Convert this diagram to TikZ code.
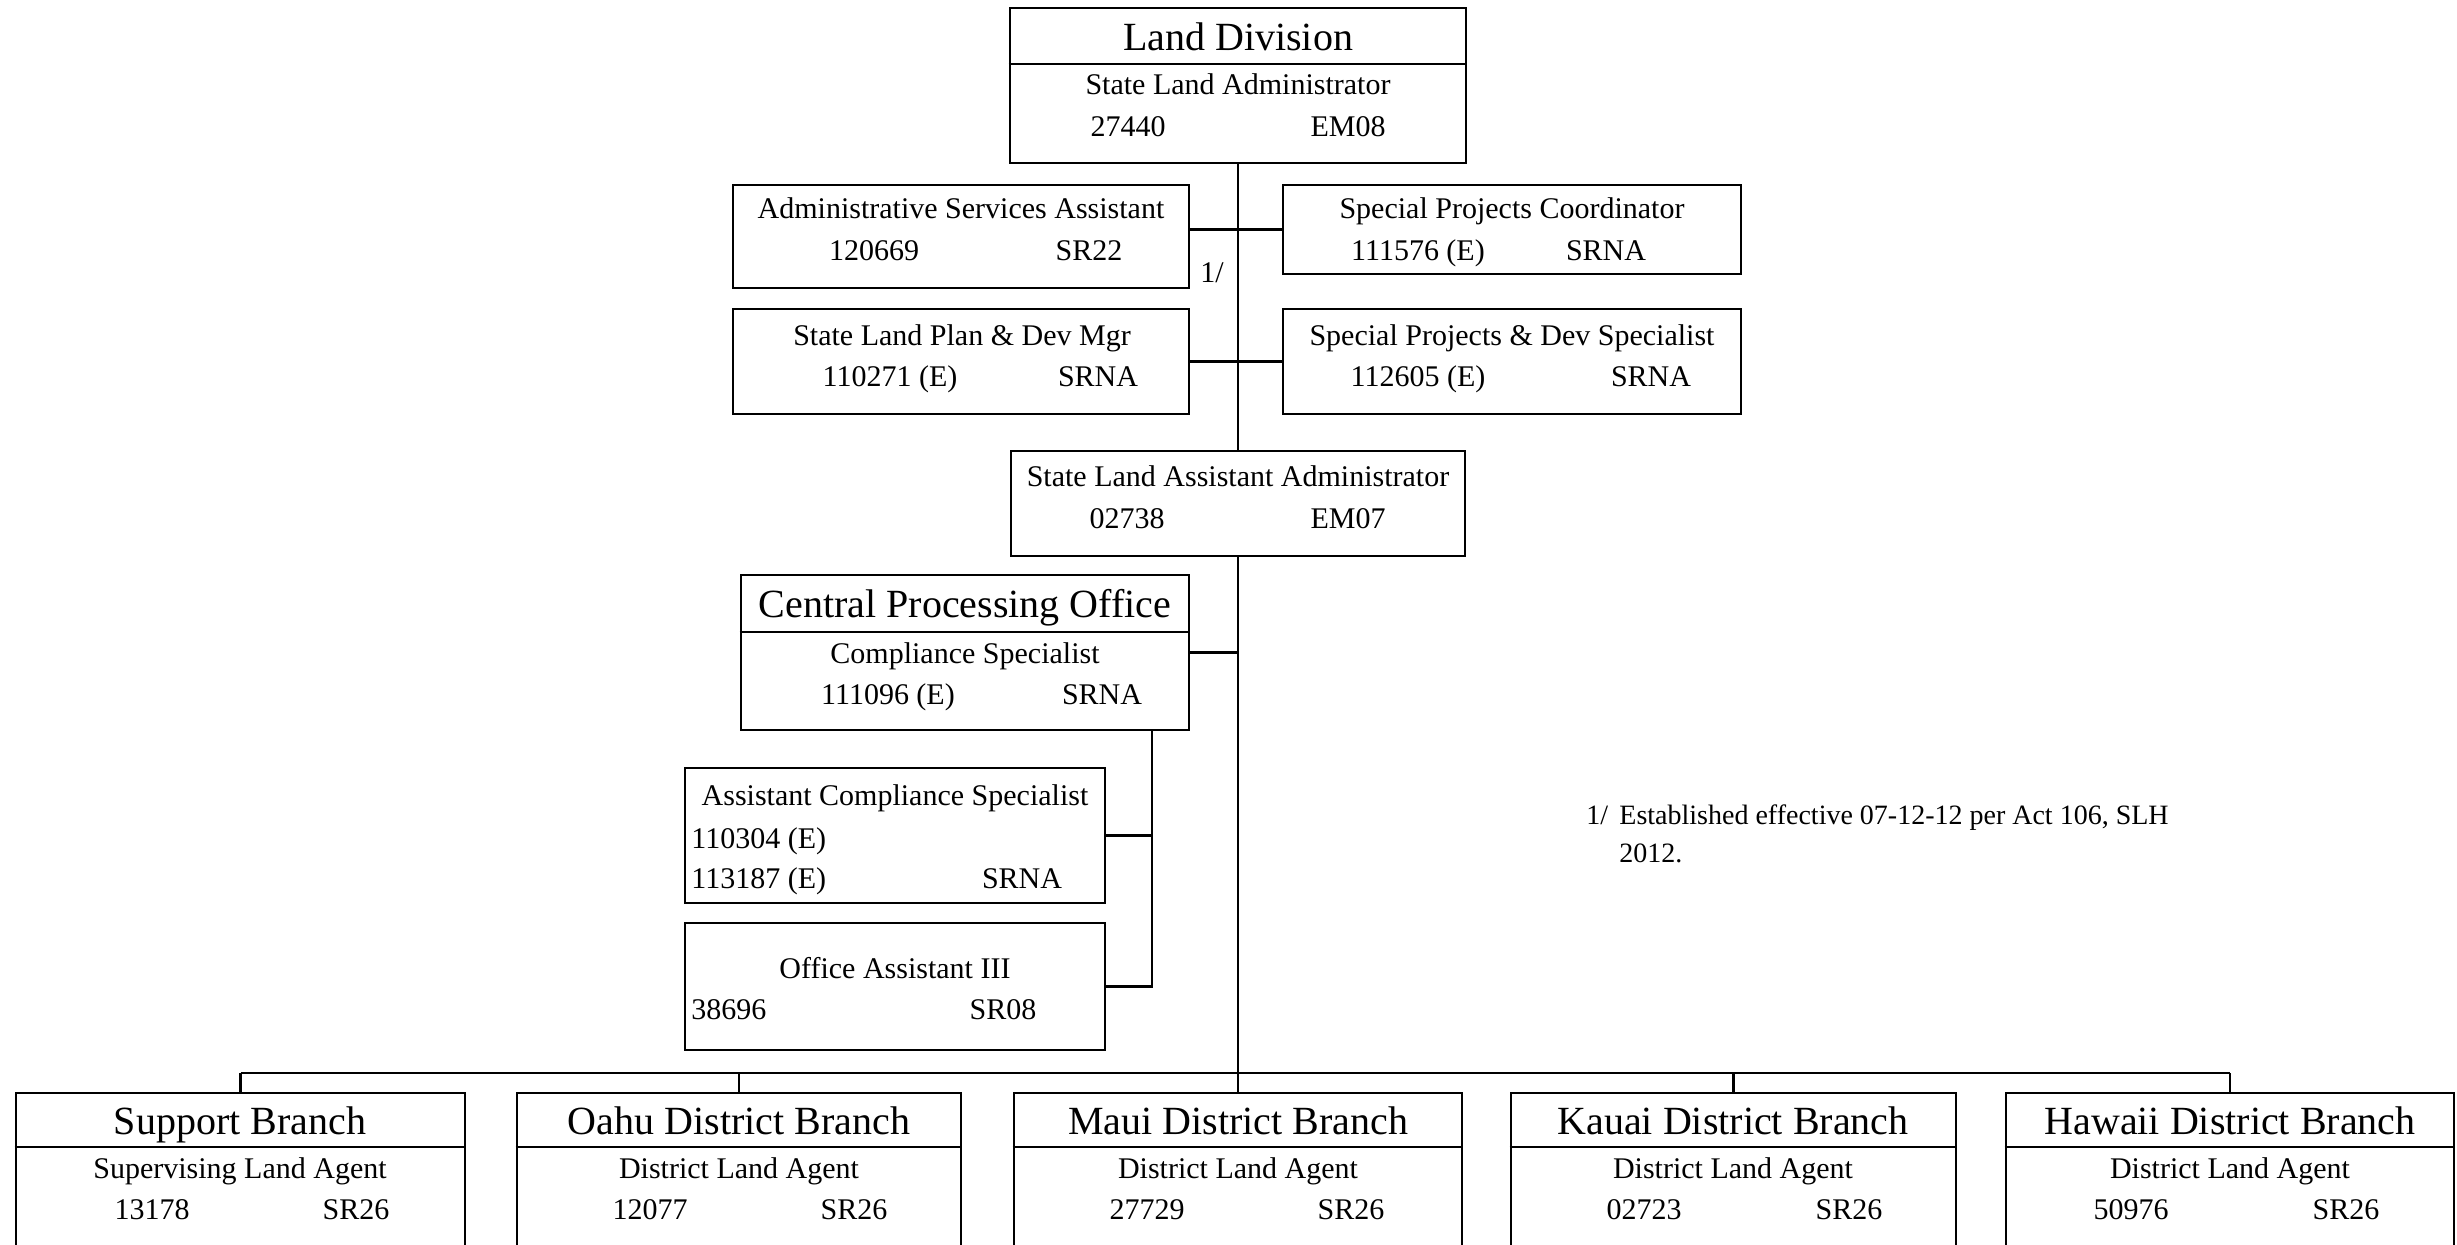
\documentclass[tikz,border=0pt]{standalone}
\usepackage{fontspec}
\setmainfont{Liberation Serif}
\usetikzlibrary{fit}
\begin{document}
\begin{tikzpicture}[x=0.5pt,y=-0.5pt,
  box/.style={draw, line width=1.3pt, inner sep=0pt},
  ln/.style={line width=1.3pt},
  txt/.style={inner sep=0pt, text height=0.68em, text depth=0pt, yshift=-2.5pt, font=\fontsize{15}{18}\selectfont},
  ttl/.style={inner sep=0pt, text height=0.68em, text depth=0pt, yshift=-3pt, font=\fontsize{20}{24}\selectfont},
  note/.style={txt, anchor=west, font=\fontsize{14}{17}\selectfont}]
\useasboundingbox (0,0) rectangle (2457,1245);

% ---------- boxes ----------
\node[box, fit={(1010,8)(1466,163)}] (ld) {};
\node[box, fit={(733,185)(1189,288)}] (asa) {};
\node[box, fit={(1283,185)(1741,274)}] (spc) {};
\node[box, fit={(733,309)(1189,414)}] (slp) {};
\node[box, fit={(1283,309)(1741,414)}] (spd) {};
\node[box, fit={(1011,451)(1465,556)}] (slaa) {};
\node[box, fit={(741,575)(1189,730)}] (cpo) {};
\node[box, fit={(685,768)(1105,903)}] (acs) {};
\node[box, fit={(685,923)(1105,1050)}] (oa) {};
\node[box, fit={(16,1093)(465,1262)}] (sb) {};
\node[box, fit={(517,1093)(961,1262)}] (oahu) {};
\node[box, fit={(1014,1093)(1462,1262)}] (maui) {};
\node[box, fit={(1511,1093)(1956,1262)}] (kauai) {};
\node[box, fit={(2006,1093)(2454,1262)}] (hawaii) {};

% dividers
\draw[ln] (ld.west |- 0,64) -- (ld.east |- 0,64);
\draw[ln] (cpo.west |- 0,632) -- (cpo.east |- 0,632);
\foreach \b in {sb,oahu,maui,kauai,hawaii}
  \draw[ln] (\b.west |- 0,1147) -- (\b.east |- 0,1147);

% ---------- texts ----------
\node[ttl] (ld-t) at (1238,38) {Land Division};
\node[txt] (ld-s) at (1238,83) {State Land Administrator};
\node[txt] (ld-n) at (1128,125) {27440};
\node[txt] (ld-g) at (1348,125) {EM08};

\node[txt] (asa-t) at (961,207) {Administrative Services Assistant};
\node[txt] (asa-n) at (874,249) {120669};
\node[txt] (asa-g) at (1089,249) {SR22};

\node[txt] (spc-t) at (1512,207) {Special Projects Coordinator};
\node[txt] (spc-n) at (1418,249) {111576 (E)};
\node[txt] (spc-g) at (1606,249) {SRNA};

\node[txt] (fn1) at (1212,271) {1/};

\node[txt] (slp-t) at (962,334) {State Land Plan \& Dev Mgr};
\node[txt] (slp-n) at (890,375) {110271 (E)};
\node[txt] (slp-g) at (1098,375) {SRNA};

\node[txt] (spd-t) at (1512,334) {Special Projects \& Dev Specialist};
\node[txt] (spd-n) at (1418,375) {112605 (E)};
\node[txt] (spd-g) at (1651,375) {SRNA};

\node[txt] (slaa-t) at (1238,475) {State Land Assistant Administrator};
\node[txt] (slaa-n) at (1127,517) {02738};
\node[txt] (slaa-g) at (1348,517) {EM07};

\node[ttl] (cpo-t) at (965,605) {Central Processing Office};
\node[txt] (cpo-s) at (965,652) {Compliance Specialist};
\node[txt] (cpo-n) at (888,693) {111096 (E)};
\node[txt] (cpo-g) at (1102,693) {SRNA};

\node[txt] (acs-t) at (895,794) {Assistant Compliance Specialist};
\node[txt, anchor=west] (acs-n1) at (691,837) {110304 (E)};
\node[txt, anchor=west] (acs-n2) at (691,877) {113187 (E)};
\node[txt] (acs-g) at (1022,877) {SRNA};

\node[txt] (oa-t) at (895,967) {Office Assistant III};
\node[txt, anchor=west] (oa-n) at (691,1008) {38696};
\node[txt] (oa-g) at (1003,1008) {SR08};

\node[ttl] (sb-t) at (240,1122) {Support Branch};
\node[txt] (sb-s) at (240,1167) {Supervising Land Agent};
\node[txt] (sb-n) at (152,1208) {13178};
\node[txt] (sb-g) at (356,1208) {SR26};

\node[ttl] (oahu-t) at (739,1122) {Oahu District Branch};
\node[txt] (oahu-s) at (739,1167) {District Land Agent};
\node[txt] (oahu-n) at (650,1208) {12077};
\node[txt] (oahu-g) at (854,1208) {SR26};

\node[ttl] (maui-t) at (1238,1122) {Maui District Branch};
\node[txt] (maui-s) at (1238,1167) {District Land Agent};
\node[txt] (maui-n) at (1147,1208) {27729};
\node[txt] (maui-g) at (1351,1208) {SR26};

\node[ttl] (kauai-t) at (1733,1122) {Kauai District Branch};
\node[txt] (kauai-s) at (1733,1167) {District Land Agent};
\node[txt] (kauai-n) at (1644,1208) {02723};
\node[txt] (kauai-g) at (1849,1208) {SR26};

\node[ttl] (hawaii-t) at (2230,1122) {Hawaii District Branch};
\node[txt] (hawaii-s) at (2230,1167) {District Land Agent};
\node[txt] (hawaii-n) at (2131,1208) {50976};
\node[txt] (hawaii-g) at (2346,1208) {SR26};

\node[note] (fnA) at (1586,813) {1/};
\node[note] (fnB) at (1619,813) {Established effective 07-12-12 per Act 106, SLH};
\node[note] (fnC) at (1619,851) {2012.};

% ---------- connectors ----------
\coordinate (bus) at (0,1073);
\draw[ln] (ld.south) -- (slaa.north);
\draw[ln] (asa.east |- spc.west) -- (spc.west);
\draw[ln] (slp.east) -- (spd.west);
\draw[ln] (slaa.south) -- (maui.north);
\draw[ln] (cpo.east) -- (cpo.east -| slaa.south);
\draw[ln] (sb.north |- bus) -- (hawaii.north |- bus);
\foreach \b in {sb,oahu,kauai,hawaii}
  \draw[ln] (\b.north |- bus) -- (\b.north);
\coordinate (cpodrop) at (1152,730);
\draw[ln] (cpodrop) -- (cpodrop |- oa.east) -- (oa.east);
\draw[ln] (acs.east) -- (acs.east -| cpodrop);
\end{tikzpicture}
\end{document}
